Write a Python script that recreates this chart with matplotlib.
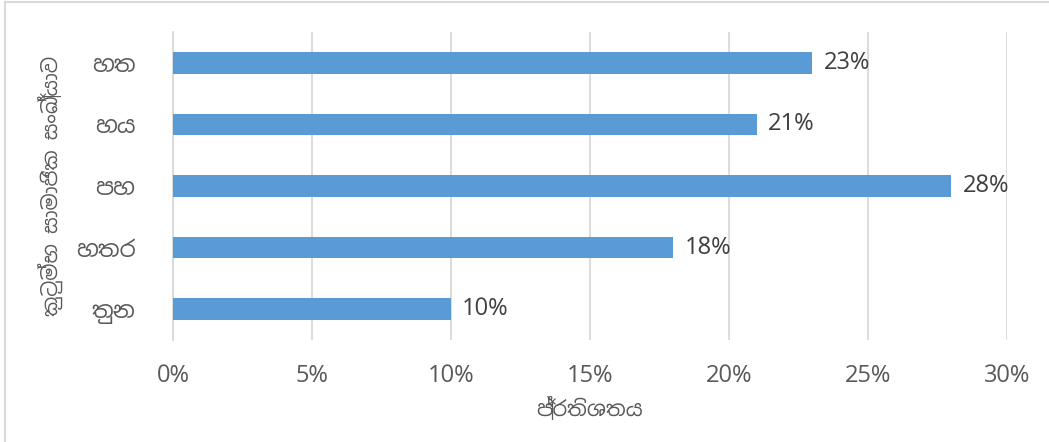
import matplotlib
matplotlib.use("Agg")
import matplotlib.pyplot as plt
from matplotlib import font_manager
from matplotlib.lines import Line2D
from matplotlib.ticker import FuncFormatter

# data
categories = ["තුන", "හතර", "පහ", "හය", "හත"]
percent = [10, 18, 28, 21, 23]
x_ticks = [0, 5, 10, 15, 20, 25, 30]
x_title = "ප්‍රතිශතය"
y_title = "කුටුම්භ සාමාජික සංඛ්‍යාව"

bar_colour = "#5B9BD5"
grid_colour = "#D9D9D9"
text_grey = "#595959"

# look for any installed face that can draw Sinhala
sinhala = None
for f in font_manager.fontManager.ttflist:
    if "Sinhala" in f.name or "Iskoola" in f.name:
        sinhala = f.name
        break
fams = ([sinhala] if sinhala else []) + ["Open Sans", "DejaVu Sans"]
plt.rcParams["font.family"] = fams

fig = plt.figure(figsize=(10.49, 4.42), dpi=100)
ax = fig.add_axes([0.1649, 0.2308, 0.795, 0.6968])

y = range(len(categories))
bars = ax.barh(y, percent, height=0.35, color=bar_colour, zorder=3)
ax.set_xlim(0, 30)
ax.set_ylim(-0.5, len(categories) - 0.5)
ax.set_xticks(x_ticks)
ax.xaxis.set_major_formatter(FuncFormatter(lambda v, p: "%d%%" % v))
ax.set_yticks(list(y))
ax.set_yticklabels(categories, fontsize=16.5)

for b, v in zip(bars, percent):
    ax.text(b.get_width() + 0.4, b.get_y() + b.get_height() / 2, "%d%%" % v,
            va="center", ha="left", fontsize=17, color="#404040")

ax.grid(axis="x", color=grid_colour, lw=1.3, zorder=0)
for s in ["top", "right", "bottom"]:
    ax.spines[s].set_visible(False)
ax.spines["left"].set_color(grid_colour)
ax.spines["left"].set_linewidth(1.3)
ax.tick_params(length=0, labelcolor=text_grey)
ax.tick_params(axis="x", pad=17, labelsize=17)
ax.tick_params(axis="y", pad=27)

ax.set_xlabel(x_title, fontsize=15, color=text_grey, labelpad=7)
ax.set_ylabel(y_title, fontsize=14.5, color=text_grey, labelpad=9)

# outer chart frame (only left and top edges show in the crop)
fig.add_artist(Line2D([0.005, 0.005], [0, 0.995], color=grid_colour, lw=1.5))
fig.add_artist(Line2D([0.005, 1], [0.995, 0.995], color=grid_colour, lw=1.5))

plt.savefig("out.png", dpi=100)
